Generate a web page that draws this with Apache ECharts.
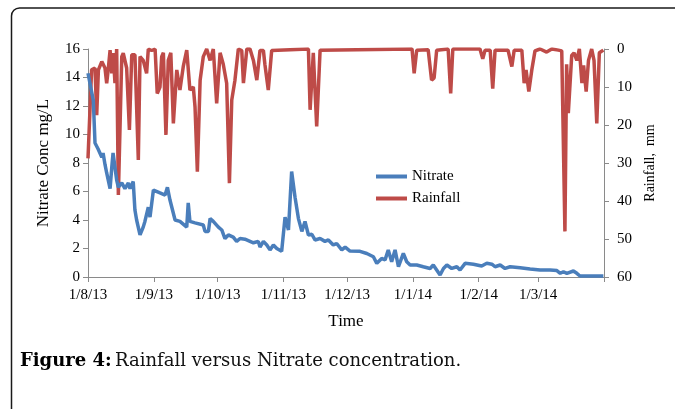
<!DOCTYPE html>
<html>
<head>
<meta charset="utf-8">
<script src="https://cdn.jsdelivr.net/npm/echarts@6/dist/echarts.min.js"></script>
<style>html,body{margin:0;padding:0;background:#fff}#c{width:675px;height:409px}</style>
</head>
<body>
<div id="c"></div>
<script>
// Start date of the record; day offsets below count from it
const startDate = [2013, 7, 1];
const endDate = [2014, 3, 1];

const nitrateDay = [0,2.5,3.3,4.7,6.5,7.1,8,8.8,10.4,11.2,11.8,12.7,13.5,14.3,15.9,17.4,19,19.8,21.3,22.1,22.9,24.5,26,26.8,28.4,29.2,30.8,33.9,36.3,37.4,38.6,41,43.3,46.5,47.2,48,50.4,54.3,55.1,56.7,57.5,59,61.4,63,64.5,66.1,68.4,70,71.6,73.9,76.3,77.9,80.2,81,82.6,84.2,85.7,87.3,88.9,91.2,92.8,94.4,95.9,97.5,99.1,100.7,102.2,103.8,105.4,106.9,109.3,111.6,113.2,115.5,117.1,119.5,121.1,123.4,128.1,131.3,134.4,136,138.3,139.9,141.4,143,144.6,146.2,148.5,150.1,151.7,154.8,157.9,161.1,162.6,164.2,165.8,167.4,169,171.3,173.7,175.2,177.6,181.5,185.4,187.8,190.2,191.7,194.1,196.4,198.8,203.5,208.2,212.9,217.6,220.8,222.4,223.9,225.5,228.6,230.2,231.7,242.7];
const nitrateVal = [14.3,12.4,9.4,9.0,8.4,8.7,7.9,7.3,6.2,7.7,8.7,8.6,6.8,6.3,6.6,6.2,6.6,6.2,6.7,4.7,4.0,2.95,3.5,3.9,4.9,4.2,6.1,5.9,5.75,6.3,5.4,4.0,3.9,3.5,5.2,3.9,3.8,3.65,3.2,3.2,4.1,3.9,3.5,3.3,2.7,2.95,2.8,2.5,2.7,2.65,2.5,2.4,2.5,2.1,2.5,2.25,1.9,2.25,2.0,1.8,4.2,3.3,7.4,5.6,4.1,3.2,3.9,2.95,3.0,2.6,2.7,2.5,2.6,2.25,2.35,1.9,2.1,1.82,1.8,1.65,1.42,0.96,1.3,1.2,1.9,1.07,1.9,0.72,1.66,1.07,0.84,0.84,0.72,0.6,0.84,0.49,0.14,0.6,0.84,0.6,0.72,0.49,0.96,0.9,0.77,0.96,0.9,0.72,0.84,0.6,0.72,0.65,0.56,0.49,0.49,0.45,0.26,0.37,0.26,0.42,0.26,0.07,0.07];

const rainDay = [0,1.7,3.3,4.1,4.9,6.5,8,8.8,9.6,10.4,11.2,11.9,12.7,13.5,14.3,15.1,15.9,16.6,18.2,19.5,20.6,22.1,23.7,24.5,26,27.6,28.4,30,31.6,32.6,33.9,34.7,35.5,36.7,37.8,39,40.2,41.8,43.3,44.9,46.5,48,49.6,50.4,51.5,52.8,54.3,55.9,57.5,59,60.6,62.2,63.7,65.3,66.6,67.7,69.2,70.8,72.4,73.2,74.8,76.3,77.9,79.5,81,82.6,83.3,84.9,86.5,103.8,104.6,106.1,107.7,109.3,152.6,153.6,154.8,160.2,161.8,163,164.2,169.6,170.8,171.8,184.6,185.9,187,189.4,190.6,191.7,197.8,199.6,200.7,204.3,205.4,206.3,207.6,209,210.5,212.9,216,218.4,221.5,223.1,224.6,225.4,226.2,227,227.8,228.9,230.2,231.4,232.6,233.4,234.6,235.7,237.2,238.3,239.6,240.8,242.7];
const rainVal = [28.8,5.5,5,17.4,5.5,3.3,5,9,5,0.3,6.4,1.1,9,0,38.4,38.4,2,1.1,5,21.3,1.5,1.5,29.2,2,3,6.4,0,0.4,0,11.7,10,2,1,22.6,3,1,19.6,5.5,10.8,4.5,0.3,10.8,10,15.2,32.3,8.2,2,0,3,0,14.3,1,4,9,35.3,13.4,8.2,0,0.4,9,0,0,3,8.2,0.4,0.4,4,10.8,0.4,0,16,1,20.4,0.3,0,6.4,0.3,0.2,8.2,7.6,0.3,0,11.7,0,0,2.6,0.3,0.3,10.4,0.3,0.3,4.6,0.3,0.3,9,5.5,11.2,5.5,0.5,0,0.8,0,0.3,0.5,48,4,16.9,16.5,1.7,1,3,0,9,4.3,11.2,3,0,3,19.6,1,0.3];

const leftTicks = {min: 0, max: 16, interval: 2};
const rightTicks = {min: 0, max: 60, interval: 10};

const DAY = 86400000;
const t0 = new Date(startDate[0], startDate[1], startDate[2]).getTime();
const t1 = new Date(endDate[0], endDate[1], endDate[2]).getTime();
const toTime = d => t0 + d * DAY;
const nitrateData = nitrateDay.map((d, i) => [toTime(d), nitrateVal[i]]);
const rainData = rainDay.map((d, i) => [toTime(d), rainVal[i]]);

const serif = '"Liberation Serif", "Times New Roman", serif';
const axisGray = '#8a8a8a';

const chart = echarts.init(document.getElementById('c'), null, {renderer: 'canvas'});
chart.setOption({
  animation: false,
  backgroundColor: '#fff',
  textStyle: {fontFamily: serif},
  grid: {left: 88, right: 71, top: 49, bottom: 132, containLabel: false},
  legend: {
    orient: 'vertical', left: 371, top: 164, itemWidth: 31, itemHeight: 4, itemGap: 7,
    icon: 'rect',
    textStyle: {fontFamily: serif, fontSize: 15, color: '#000'},
    data: ['Nitrate', 'Rainfall']
  },
  xAxis: {
    type: 'time', min: t0, max: t1,
    minInterval: 28 * DAY, maxInterval: 31 * DAY,
    name: 'Time', nameLocation: 'middle', nameGap: 36,
    nameTextStyle: {fontFamily: serif, fontSize: 17, color: '#000'},
    axisLine: {lineStyle: {color: axisGray}},
    axisTick: {show: true, length: 5, lineStyle: {color: axisGray}},
    splitLine: {show: false},
    axisLabel: {
      fontFamily: serif, fontSize: 15, color: '#000', margin: 11,
      showMaxLabel: false,
      formatter: v => {
        const d = new Date(v);
        if (v >= t1) return '';
        return '1/' + (d.getMonth() + 1) + '/' + String(d.getFullYear()).slice(2);
      }
    }
  },
  yAxis: [{
    type: 'value', min: leftTicks.min, max: leftTicks.max, interval: leftTicks.interval,
    name: 'Nitrate Conc mg/L', nameLocation: 'middle', nameGap: 36,
    nameTextStyle: {fontFamily: serif, fontSize: 17, color: '#000'},
    axisLine: {show: true, lineStyle: {color: axisGray}},
    axisTick: {show: true, length: 5, lineStyle: {color: axisGray}},
    splitLine: {show: false},
    axisLabel: {fontFamily: serif, fontSize: 15, color: '#000', margin: 8}
  }, {
    type: 'value', inverse: true, min: rightTicks.min, max: rightTicks.max, interval: rightTicks.interval,
    position: 'right',
    name: 'Rainfall,  mm', nameLocation: 'middle', nameGap: 39,
    nameTextStyle: {fontFamily: serif, fontSize: 14, color: '#000'},
    axisLine: {show: true, lineStyle: {color: axisGray}},
    axisTick: {show: true, length: 5, lineStyle: {color: axisGray}},
    splitLine: {show: false},
    axisLabel: {fontFamily: serif, fontSize: 15, color: '#000', margin: 13}
  }],
  series: [{
    name: 'Nitrate', type: 'line', yAxisIndex: 0, data: nitrateData, z: 3,
    showSymbol: false, symbol: 'none',
    lineStyle: {color: '#4a7ebb', width: 3.5}, itemStyle: {color: '#4a7ebb'}
  }, {
    name: 'Rainfall', type: 'line', yAxisIndex: 1, data: rainData, z: 2,
    showSymbol: false, symbol: 'none',
    lineStyle: {color: '#be4b48', width: 3.5}, itemStyle: {color: '#be4b48'}
  }],
  graphic: [{
    type: 'rect', silent: true,
    shape: {x: 11.5, y: 8, width: 720, height: 460, r: [8, 0, 0, 0]},
    style: {fill: 'none', stroke: '#1a1a1a', lineWidth: 1.5}
  }, {
    type: 'text', left: 20, top: 352,
    style: {
      rich: {b: {fontFamily: '"DejaVu Serif", serif', fontWeight: 'bold', fontSize: 18, fill: '#000'},
             r: {fontFamily: '"DejaVu Serif", serif', fontSize: 18, fill: '#111'}},
      text: '{b|Figure 4:} {r|Rainfall versus Nitrate concentration.}'
    }
  }]
});
</script>
</body>
</html>
